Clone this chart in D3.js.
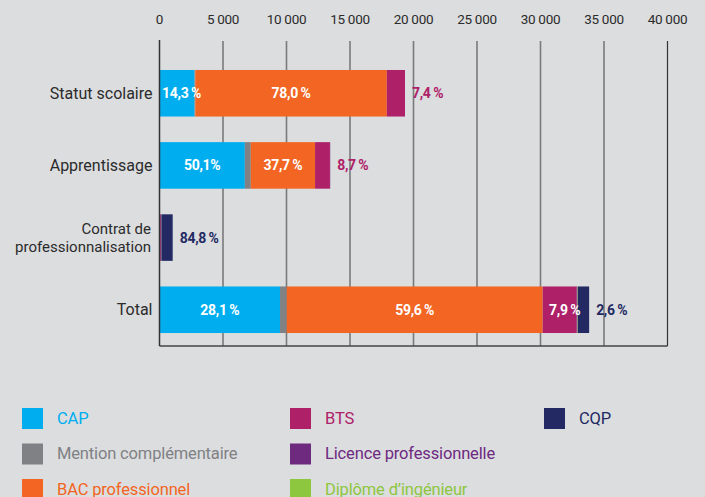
<!doctype html>
<html>
<head>
<meta charset="utf-8">
<title>Formations</title>
<style>
body { margin: 0; background: #dcdddf; }
text { font-family: Roboto, "Open Sans", sans-serif; }
</style>
<script src="https://cdn.jsdelivr.net/npm/d3@7"></script>
</head>
<body>
<script>
// data (effectifs estimés)
var categories = ["Statut scolaire", "Apprentissage", "Contrat de professionnalisation", "Total"];
var keys = ["CAP", "Mention complémentaire", "BAC professionnel", "BTS", "Licence professionnelle", "Diplôme d\u2019ingénieur", "CQP"];
var colors = ["#00aeef", "#808184", "#f26522", "#ae2068", "#6d2a7f", "#8dc63f", "#232a63"];

var statutScolaire = [2760, 60, 15080, 1430, 0, 0, 0];
var apprentissage = [6720, 470, 5060, 1170, 20, 0, 0];
var contratPro = [10, 0, 10, 80, 50, 8, 880];
var total = [9490, 530, 20150, 2680, 70, 30, 880];

var tickValues = [0, 5000, 10000, 15000, 20000, 25000, 30000, 35000, 40000];
var tickLabels = ["0", "5 000", "10 000", "15 000", "20 000", "25 000", "30 000", "35 000", "40 000"];

// percentage labels: [row, segment index, text, inside?]
var pctLabels = [
    [0, 0, "14,3\u2009%", true], [0, 2, "78,0\u2009%", true], [0, 3, "7,4\u2009%", false],
    [1, 0, "50,1%", true], [1, 2, "37,7\u2009%", true], [1, 3, "8,7\u2009%", false],
    [2, 6, "84,8\u2009%", false],
    [3, 0, "28,1\u2009%", true], [3, 2, "59,6\u2009%", true], [3, 3, "7,9\u2009%", true], [3, 6, "2,6\u2009%", false]
];

var rows = [statutScolaire, apprentissage, contratPro, total];

var W = 705, H = 497;
var svg = d3.select("body").append("svg").attr("width", W).attr("height", H);

var x = d3.scaleLinear().domain([0, 40000]).range([159.5, 667.5]);
var y = d3.scaleBand().domain(categories).range([57, 346]).paddingInner(0.355).paddingOuter(0.18);

// grid
svg.selectAll("line.grid").data(tickValues.slice(1)).enter().append("line")
    .attr("x1", function(d) { return x(d); }).attr("x2", function(d) { return x(d); })
    .attr("y1", 41).attr("y2", 346)
    .attr("stroke", function(d, i) { return i == tickValues.length - 2 ? "#333" : "#7a7a7c"; })
    .attr("stroke-width", function(d, i) { return i == tickValues.length - 2 ? 1.2 : 1.6; });

svg.append("line").attr("x1", x(0)).attr("x2", x(40000)).attr("y1", 346).attr("y2", 346)
    .attr("stroke", "#444").attr("stroke-width", 1.6);

// top tick labels
svg.selectAll("text.tick").data(tickValues).enter().append("text")
    .attr("x", function(d) { return x(d); }).attr("y", 24)
    .attr("text-anchor", "middle").attr("font-size", 13.5).attr("fill", "#2b2b2b")
    .attr("letter-spacing", "-0.3")
    .text(function(d, i) { return tickLabels[i]; });

// stacked bars
var stacked = rows.map(function(r) {
    var acc = 0;
    return r.map(function(v, i) {
        var s = { x0: acc, x1: acc + v, k: i };
        acc += v;
        return s;
    });
});

var g = svg.selectAll("g.row").data(stacked).enter().append("g")
    .attr("transform", function(d, i) { return "translate(0," + y(categories[i]) + ")"; });

g.selectAll("rect").data(function(d) { return d.filter(function(s) { return s.x1 > s.x0; }); })
    .enter().append("rect")
    .attr("x", function(s) { return x(s.x0); })
    .attr("width", function(s) { return x(s.x1) - x(s.x0); })
    .attr("height", y.bandwidth())
    .attr("fill", function(s) { return colors[s.k]; });

// left axis line
svg.append("line").attr("x1", x(0)).attr("x2", x(0)).attr("y1", 40).attr("y2", 346)
    .attr("stroke", "#333").attr("stroke-width", 1.5);

// category labels
categories.forEach(function(c, i) {
    var cy = y(c) + y.bandwidth() / 2;
    var t = svg.append("text").attr("x", 152.5).attr("text-anchor", "end")
        .attr("fill", "#2b2b2b");
    if (c == "Contrat de professionnalisation") {
        t.attr("font-size", 15);
        t.append("tspan").attr("x", 151).attr("y", cy - 4).text("Contrat de");
        t.append("tspan").attr("x", 151).attr("y", cy + 14).text("professionnalisation");
    } else {
        t.attr("font-size", 16).attr("y", cy + 5.5).text(c);
    }
});

// percentage labels
pctLabels.forEach(function(p) {
    var s = stacked[p[0]][p[1]];
    var cy = y(categories[p[0]]) + y.bandwidth() / 2 + 5;
    var t = svg.append("text").attr("y", cy).attr("font-size", 14).attr("font-weight", 700)
        .attr("letter-spacing", "-0.3");
    if (p[3]) {
        var cx = Math.max((x(s.x0) + x(s.x1)) / 2, x(s.x0) + 22);
        t.attr("x", cx).attr("text-anchor", "middle").attr("fill", "#fff");
    } else {
        var end = d3.sum(rows[p[0]]);
        t.attr("x", x(end) + 7).attr("fill", colors[p[1]]);
    }
    t.text(p[2]);
});

// legend
var legCols = [[0, 1, 2], [3, 4, 5], [6]];
var legX = [22, 290, 544];
legCols.forEach(function(col, ci) {
    col.forEach(function(k, ri) {
        var ly = 408 + ri * 35.5;
        svg.append("rect").attr("x", legX[ci]).attr("y", ly).attr("width", 21).attr("height", 21)
            .attr("fill", colors[k]);
        svg.append("text").attr("x", legX[ci] + 35).attr("y", ly + 15.5)
            .attr("font-size", 16.5).attr("letter-spacing", "-0.15")
            .attr("fill", colors[k]).text(keys[k]);
    });
});
</script>
</body>
</html>
